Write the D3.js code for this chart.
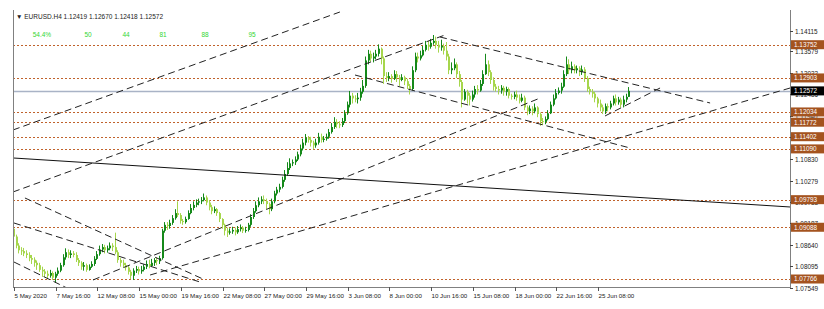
<!DOCTYPE html>
<html>
<head>
<title>EURUSD.H4</title>
<script src="https://d3js.org/d3.v7.min.js"></script>
<style>
body,html { margin: 0; padding: 0; background: #fff; }
svg { display: block; }
</style>
</head>
<body>
<svg id="chart" width="824" height="309"></svg>
<script>

// ---- data ----
const symbolTitle = "EURUSD.H4";
const lastOhlc = ["1.12419", "1.12670", "1.12418", "1.12572"];
const firstOpen = 1.0905;
const lastPrice = 1.12572;

const xLabels = ["5 May 2020","7 May 16:00","12 May 08:00","15 May 00:00","19 May 16:00","22 May 08:00",
  "27 May 00:00","29 May 16:00","3 Jun 08:00","8 Jun 00:00","10 Jun 16:00","15 Jun 08:00",
  "18 Jun 00:00","22 Jun 16:00","25 Jun 08:00"];
const barsPerLabel = 16;

const yTickLabels = ["1.14115","1.13579","1.13032","1.12486","1.11940","1.11394","1.10830",
  "1.10279","1.09733","1.09187","1.08640","1.08095","1.07549"];

const levels = [1.13752, 1.12903, 1.12034, 1.11772, 1.11402, 1.11090, 1.09793, 1.09088, 1.07766];
const levelLabels = ["1.13752","1.12903","1.12034","1.11772","1.11402","1.11090","1.09793","1.09088","1.07766"];

const fibLabels = ["54.4%", "50", "44", "81", "88", "95"];
const fibBars = [10.7, 28.4, 43, 57.2, 73.3, 91.3];

// H4 closes, 5 May 00:00 .. 29 Jun 08:00 (6 bars a day)
const closes = [
  1.0885,1.0862,1.0850,1.0848,1.0842,1.0838, 1.0830,1.0826,1.0818,1.0812,1.0800,1.0796,
  1.0790,1.0785,1.0792,1.0780,1.0790,1.0798, 1.0812,1.0832,1.0845,1.0838,1.0842,1.0838,
  1.0825,1.0818,1.0808,1.0812,1.0800,1.0808, 1.0815,1.0828,1.0840,1.0852,1.0858,1.0850,
  1.0855,1.0862,1.0858,1.0845,1.0825,1.0818, 1.0812,1.0806,1.0795,1.0785,1.0798,1.0802,
  1.0796,1.0800,1.0808,1.0815,1.0810,1.0818, 1.0825,1.0822,1.0830,1.0900,1.0915,1.0912,
  1.0920,1.0932,1.0945,1.0940,1.0925,1.0922, 1.0930,1.0945,1.0958,1.0966,1.0972,1.0975,
  1.0978,1.0985,1.0972,1.0960,1.0950,1.0955, 1.0945,1.0930,1.0915,1.0900,1.0895,1.0898,
  1.0902,1.0896,1.0904,1.0908,1.0900,1.0902, 1.0915,1.0935,1.0950,1.0965,1.0975,1.0980,
  1.0976,1.0968,1.0955,1.0975,1.0995,1.1005, 1.1012,1.1030,1.1045,1.1060,1.1072,1.1075,
  1.1082,1.1095,1.1110,1.1125,1.1138,1.1132, 1.1125,1.1118,1.1125,1.1140,1.1132,1.1135,
  1.1140,1.1152,1.1165,1.1178,1.1172,1.1170, 1.1180,1.1200,1.1222,1.1245,1.1238,1.1236,
  1.1240,1.1255,1.1270,1.1335,1.1352,1.1340, 1.1345,1.1352,1.1365,1.1340,1.1295,1.1290,
  1.1295,1.1288,1.1300,1.1292,1.1285,1.1292, 1.1282,1.1270,1.1262,1.1310,1.1345,1.1340,
  1.1348,1.1362,1.1375,1.1370,1.1380,1.1385, 1.1375,1.1368,1.1372,1.1360,1.1345,1.1310,
  1.1315,1.1325,1.1300,1.1280,1.1235,1.1255, 1.1245,1.1235,1.1248,1.1262,1.1258,1.1275,
  1.1300,1.1325,1.1305,1.1285,1.1268,1.1262, 1.1258,1.1265,1.1255,1.1262,1.1245,1.1242,
  1.1248,1.1240,1.1232,1.1240,1.1215,1.1205, 1.1212,1.1205,1.1215,1.1198,1.1180,1.1178,
  1.1185,1.1200,1.1222,1.1238,1.1252,1.1258, 1.1268,1.1300,1.1325,1.1310,1.1320,1.1310,
  1.1315,1.1305,1.1312,1.1290,1.1262,1.1255, 1.1250,1.1238,1.1225,1.1215,1.1205,1.1218,
  1.1215,1.1225,1.1238,1.1228,1.1235,1.1222, 1.1235,1.1242,1.12572
];
const highs = [
  1.0918,1.0890,1.0868,1.0858,1.0856,1.0850, 1.0845,1.0838,1.0832,1.0824,1.0818,1.0808,
  1.0802,1.0798,1.0800,1.0796,1.0795,1.0806, 1.0818,1.0840,1.0855,1.0852,1.0850,1.0848,
  1.0845,1.0830,1.0822,1.0820,1.0816,1.0814, 1.0822,1.0835,1.0848,1.0862,1.0866,1.0864,
  1.0862,1.0870,1.0868,1.0895,1.0850,1.0830, 1.0826,1.0818,1.0812,1.0800,1.0804,1.0810,
  1.0808,1.0810,1.0814,1.0824,1.0826,1.0828, 1.0830,1.0832,1.0836,1.0905,1.0922,1.0922,
  1.0928,1.0940,1.0955,1.0975,1.0945,1.0930, 1.0936,1.0952,1.0968,1.0975,1.0980,1.0982,
  1.0986,1.0995,1.0990,1.0978,1.0966,1.0962, 1.0958,1.0948,1.0932,1.0918,1.0908,1.0906,
  1.0910,1.0908,1.0912,1.0916,1.0912,1.0910, 1.0920,1.0942,1.0958,1.0975,1.0985,1.0988,
  1.0990,1.0982,1.0972,1.0982,1.1002,1.1012, 1.1020,1.1038,1.1055,1.1075,1.1085,1.1082,
  1.1090,1.1102,1.1120,1.1135,1.1147,1.1142, 1.1140,1.1130,1.1135,1.1150,1.1148,1.1142,
  1.1148,1.1160,1.1175,1.1190,1.1185,1.1180, 1.1188,1.1208,1.1230,1.1257,1.1252,1.1246,
  1.1252,1.1265,1.1285,1.1345,1.1362,1.1360, 1.1355,1.1362,1.1376,1.1368,1.1345,1.1305,
  1.1305,1.1300,1.1310,1.1308,1.1298,1.1300, 1.1296,1.1288,1.1275,1.1320,1.1355,1.1355,
  1.1360,1.1372,1.1385,1.1385,1.1390,1.1400, 1.1396,1.1385,1.1388,1.1378,1.1382,1.1352,
  1.1330,1.1340,1.1330,1.1308,1.1285,1.1262, 1.1260,1.1252,1.1258,1.1270,1.1272,1.1285,
  1.1310,1.1352,1.1335,1.1310,1.1292,1.1275, 1.1270,1.1272,1.1270,1.1268,1.1266,1.1250,
  1.1255,1.1258,1.1248,1.1250,1.1245,1.1220, 1.1220,1.1218,1.1225,1.1218,1.1202,1.1188,
  1.1192,1.1208,1.1230,1.1248,1.1262,1.1266, 1.1278,1.1310,1.1345,1.1338,1.1332,1.1325,
  1.1322,1.1320,1.1322,1.1318,1.1295,1.1268, 1.1262,1.1255,1.1242,1.1235,1.1222,1.1225,
  1.1225,1.1232,1.1245,1.1248,1.1242,1.1240, 1.1245,1.1250,1.12670
];
const lows = [
  1.0880,1.0855,1.0842,1.0838,1.0835,1.0830, 1.0822,1.0815,1.0808,1.0800,1.0795,1.0782,
  1.0782,1.0776,1.0780,1.0774,1.0767,1.0785, 1.0794,1.0808,1.0826,1.0830,1.0830,1.0832,
  1.0820,1.0810,1.0800,1.0798,1.0795,1.0798, 1.0805,1.0810,1.0825,1.0836,1.0845,1.0842,
  1.0844,1.0850,1.0848,1.0840,1.0818,1.0808, 1.0805,1.0798,1.0788,1.0776,1.0774,1.0792,
  1.0788,1.0790,1.0796,1.0802,1.0804,1.0808, 1.0810,1.0812,1.0815,1.0826,1.0895,1.0902,
  1.0905,1.0915,1.0928,1.0935,1.0918,1.0915, 1.0918,1.0928,1.0942,1.0952,1.0960,1.0965,
  1.0968,1.0975,1.0965,1.0952,1.0942,1.0945, 1.0938,1.0922,1.0905,1.0888,1.0884,1.0890,
  1.0892,1.0888,1.0892,1.0898,1.0894,1.0895, 1.0898,1.0910,1.0930,1.0946,1.0960,1.0968,
  1.0968,1.0955,1.0942,1.0950,1.0970,1.0990, 1.0998,1.1008,1.1025,1.1040,1.1055,1.1065,
  1.1068,1.1078,1.1090,1.1105,1.1118,1.1125, 1.1115,1.1108,1.1112,1.1120,1.1125,1.1126,
  1.1130,1.1135,1.1148,1.1160,1.1162,1.1162, 1.1165,1.1175,1.1196,1.1215,1.1225,1.1228,
  1.1225,1.1232,1.1250,1.1265,1.1325,1.1332, 1.1330,1.1338,1.1345,1.1325,1.1275,1.1280,
  1.1282,1.1278,1.1285,1.1280,1.1270,1.1282, 1.1272,1.1262,1.1248,1.1258,1.1305,1.1330,
  1.1335,1.1345,1.1358,1.1360,1.1365,1.1375, 1.1365,1.1355,1.1360,1.1350,1.1335,1.1300,
  1.1300,1.1310,1.1290,1.1268,1.1215,1.1232, 1.1225,1.1220,1.1230,1.1240,1.1248,1.1255,
  1.1270,1.1298,1.1295,1.1275,1.1258,1.1255, 1.1248,1.1250,1.1245,1.1245,1.1238,1.1235,
  1.1236,1.1232,1.1225,1.1228,1.1208,1.1195, 1.1198,1.1195,1.1200,1.1190,1.1168,1.1170,
  1.1172,1.1182,1.1198,1.1218,1.1235,1.1248, 1.1250,1.1265,1.1295,1.1300,1.1302,1.1302,
  1.1302,1.1295,1.1298,1.1280,1.1255,1.1248, 1.1240,1.1228,1.1215,1.1205,1.1198,1.1198,
  1.1205,1.1210,1.1220,1.1220,1.1222,1.1215, 1.1215,1.1228,1.12418
];

// trend lines: [startBar, startPrice, endBar, endPrice]
const trendLines = [
  [-0.4, 1.09989, 165.3, 1.14000],
  [-0.4, 1.11573, 125.0, 1.14588],
  [30.3, 1.07741, 201.8, 1.12390],
  [52.2, 1.07868, 297.7, 1.12646],
  [163.4, 1.13949, 267.0, 1.12263],
  [130.8, 1.12978, 236.3, 1.11113],
  [226.7, 1.11931, 247.8, 1.12646],
  [4.2, 1.09836, 73.3, 1.07741],
  [0, 1.09197, 71.3, 1.07690],
  [0, 1.08200, 20.3, 1.07536]
];
const solidLines = [
  [-0.4, 1.10858, 297.7, 1.09606]
];

// ---- drawing ----
const plot = { left: 13, right: 790, top: 10, bottom: 287 };
const bullColor = "#15891a";
const bearColor = "#a6d64c";
const levelColor = "#c0622c";
const boxColor = "#a4531f";
const font = "'Liberation Sans', Arial, sans-serif";

function main() {
  const svg = d3.select("#chart");

  const x = d3.scaleLinear()
    .domain([0, barsPerLabel * (xLabels.length - 1)])
    .range([14, 598]);
  const y = d3.scaleLinear()
    .domain([1.07549, 1.14115])
    .range([287.5, 30.5]);

  svg.append("defs").append("clipPath").attr("id", "plotclip")
    .append("rect")
    .attr("x", plot.left).attr("y", plot.top)
    .attr("width", plot.right - plot.left).attr("height", plot.bottom - plot.top);

  const g = svg.append("g").attr("clip-path", "url(#plotclip)");

  // horizontal levels
  g.selectAll(".level").data(levels).enter().append("line")
    .attr("x1", plot.left).attr("x2", plot.right)
    .attr("y1", d => Math.round(y(d)) + 0.5).attr("y2", d => Math.round(y(d)) + 0.5)
    .attr("stroke", levelColor).attr("stroke-width", 1)
    .attr("stroke-dasharray", "2,2");

  // current price line
  g.append("line")
    .attr("x1", plot.left).attr("x2", plot.right)
    .attr("y1", Math.round(y(lastPrice)) + 0.5).attr("y2", Math.round(y(lastPrice)) + 0.5)
    .attr("stroke", "#a9b3c6").attr("stroke-width", 1.5);

  // candles
  const opens = closes.map((c, i) => i === 0 ? firstOpen : closes[i - 1]);
  const bars = g.append("g");
  closes.forEach(function(c, i) {
    const o = opens[i];
    const col = c >= o ? bullColor : bearColor;
    const cx = Math.round(x(i));
    bars.append("line")
      .attr("x1", cx - 0.5).attr("x2", cx - 0.5)
      .attr("y1", y(highs[i])).attr("y2", y(lows[i]))
      .attr("stroke", col).attr("stroke-width", 1);
    const top = y(Math.max(o, c));
    const h = Math.max(1, Math.abs(y(o) - y(c)));
    bars.append("rect")
      .attr("x", cx - 1).attr("width", 2)
      .attr("y", top).attr("height", h)
      .attr("fill", col);
  });

  // trend lines
  g.selectAll(".trend").data(trendLines).enter().append("line")
    .attr("x1", d => x(d[0])).attr("y1", d => y(d[1]))
    .attr("x2", d => x(d[2])).attr("y2", d => y(d[3]))
    .attr("stroke", "#222").attr("stroke-width", 1)
    .attr("stroke-dasharray", "7,4");
  g.selectAll(".solid").data(solidLines).enter().append("line")
    .attr("x1", d => x(d[0])).attr("y1", d => y(d[1]))
    .attr("x2", d => x(d[2])).attr("y2", d => y(d[3]))
    .attr("stroke", "#111").attr("stroke-width", 1);

  // fib labels
  svg.selectAll(".fib").data(fibLabels).enter().append("text")
    .attr("x", (d, i) => x(fibBars[i])).attr("y", 37)
    .attr("text-anchor", "middle")
    .attr("font-family", font).attr("font-size", "6.5px")
    .attr("fill", "#33d633")
    .text(d => d);

  // header
  svg.append("text")
    .attr("x", 16).attr("y", 19)
    .attr("font-family", font).attr("font-size", "6.5px").attr("fill", "#222")
    .text("\u25BC " + symbolTitle + "  " + lastOhlc.join(" "));

  // frame
  svg.append("line").attr("x1", 13.5).attr("x2", 13.5).attr("y1", plot.top).attr("y2", plot.bottom + 1)
    .attr("stroke", "#808080");
  svg.append("line").attr("x1", plot.right + 0.5).attr("x2", plot.right + 0.5).attr("y1", plot.top).attr("y2", plot.bottom + 1)
    .attr("stroke", "#808080");
  svg.append("line").attr("x1", 13).attr("x2", plot.right + 1).attr("y1", plot.bottom + 0.5).attr("y2", plot.bottom + 0.5)
    .attr("stroke", "#808080");

  // x axis
  const xt = svg.append("g");
  xLabels.forEach(function(lab, k) {
    const px = Math.round(x(k * barsPerLabel)) + 0.5;
    xt.append("line").attr("x1", px).attr("x2", px).attr("y1", plot.bottom).attr("y2", plot.bottom + 4)
      .attr("stroke", "#555");
    xt.append("text").attr("x", px).attr("y", plot.bottom + 11)
      .attr("font-family", font).attr("font-size", "6.2px").attr("fill", "#222")
      .text(lab);
  });

  // y axis ticks
  const yt = svg.append("g");
  yTickLabels.forEach(function(lab) {
    const py = Math.round(y(+lab)) + 0.5;
    yt.append("line").attr("x1", plot.right).attr("x2", plot.right + 3).attr("y1", py).attr("y2", py)
      .attr("stroke", "#444");
    yt.append("text").attr("x", plot.right + 5).attr("y", py + 2.3)
      .attr("font-family", font).attr("font-size", "6.4px").attr("fill", "#222")
      .text(lab);
  });

  // level boxes
  levels.forEach(function(v, i) {
    const py = y(v);
    svg.append("rect").attr("x", plot.right + 1).attr("y", py - 4.5)
      .attr("width", 33).attr("height", 9).attr("fill", boxColor);
    svg.append("text").attr("x", plot.right + 4).attr("y", py + 2.3)
      .attr("font-family", font).attr("font-size", "6.4px").attr("fill", "#fff")
      .text(levelLabels[i]);
  });

  // last price box
  const ly = y(lastPrice);
  svg.append("rect").attr("x", plot.right + 1).attr("y", ly - 4.5)
    .attr("width", 33).attr("height", 9).attr("fill", "#000");
  svg.append("text").attr("x", plot.right + 4).attr("y", ly + 2.3)
    .attr("font-family", font).attr("font-size", "6.4px").attr("fill", "#fff")
    .text(lastOhlc[3]);
}

main();
</script>
</body>
</html>
